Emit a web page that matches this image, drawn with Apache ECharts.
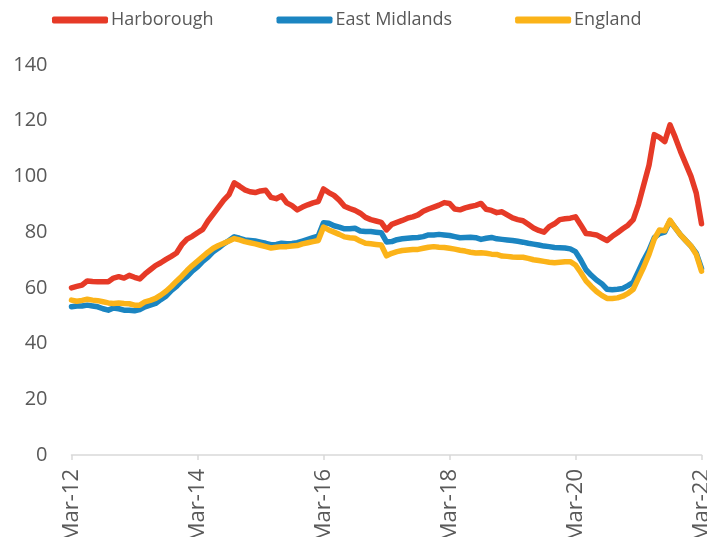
<!DOCTYPE html>
<html>
<head>
<meta charset="utf-8">
<script src="https://cdn.jsdelivr.net/npm/echarts@6/dist/echarts.min.js"></script>
<style>
  html, body { margin: 0; padding: 0; background: #fff; }
  #chart { width: 707px; height: 537px; }
</style>
</head>
<body>
<div id="chart"></div>
<script>
// month labels Mar-12 .. Mar-22
const monthNames = ["Jan", "Feb", "Mar", "Apr", "May", "Jun", "Jul", "Aug", "Sep", "Oct", "Nov", "Dec"];
const categories = [];
for (let i = 0; i <= 120; i++) {
  const m = (2 + i) % 12;
  const y = 12 + Math.floor((2 + i) / 12);
  categories.push(monthNames[m] + "-" + y);
}

const seriesNames = ["Harborough", "East Midlands", "England"];

const harborough = [
  60, 60.5, 61, 62.5, 62.3, 62.2, 62.2, 62.2, 63.5, 64, 63.5, 64.5,
  63.8, 63.2, 65, 66.5, 68, 69, 70.2, 71.3, 72.5, 75.5, 77.5, 78.5,
  79.8, 81, 84, 86.5, 89, 91.5, 93.5, 97.7, 96.5, 95.2, 94.5, 94.2,
  94.8, 95, 92.5, 92, 93, 90.5, 89.5, 88, 89, 89.8, 90.5, 91,
  95.5, 94.2, 93.2, 91.5, 89.3, 88.5, 87.8, 86.8, 85.3, 84.5, 84, 83.5,
  80.8, 82.8, 83.5, 84.2, 85, 85.5, 86.2, 87.5, 88.3, 89, 89.7, 90.6,
  90.3, 88.3, 88, 88.7, 89.2, 89.6, 90.3, 88.2, 87.8, 87, 87.3, 86.2,
  85.1, 84.5, 84.1, 82.8, 81.5, 80.6, 80, 82, 83, 84.5, 84.8, 85,
  85.5, 82.6, 79.5, 79.3, 79, 78, 77, 78.5, 79.8, 81.2, 82.5, 84.5,
  90, 97, 104, 115, 114, 112.5, 118.5, 114, 109, 104.5, 100, 94,
  83
];

const eastMidlands = [
  53.2, 53.5, 53.5, 53.8, 53.5, 53.2, 52.5, 52, 52.8, 52.5, 52, 52,
  51.8, 52.2, 53.2, 53.8, 54.4, 55.8, 57, 59, 60.5, 62.5, 64, 66,
  67.5, 69.5, 71, 73, 74.3, 75.8, 77, 78.3, 77.8, 77.2, 77, 76.8,
  76.4, 76, 75.5, 75.6, 76, 75.8, 75.9, 76.2, 76.8, 77.4, 78, 78.6,
  83.4, 83.2, 82.3, 81.8, 81.2, 81.2, 81.4, 80.4, 80.2, 80.2, 80, 79.8,
  76.5, 76.6, 77.3, 77.6, 77.8, 78, 78.1, 78.4, 79, 79, 79.2, 79,
  78.8, 78.4, 78, 78.1, 78.2, 78, 77.4, 77.8, 78.1, 77.6, 77.4, 77.2,
  77, 76.7, 76.4, 76, 75.7, 75.4, 75, 74.8, 74.5, 74.4, 74.3, 74,
  73, 70, 66.5, 64.5, 62.8, 61.5, 59.5, 59.3, 59.5, 59.8, 60.8, 62,
  66, 70, 73.5, 78, 79.5, 80, 84, 81.5, 79, 77, 75, 72.5,
  67
];

const england = [
  55.6, 55.2, 55.5, 55.9, 55.6, 55.4, 55, 54.6, 54.4, 54.6, 54.4, 54.3,
  53.8, 53.8, 55, 55.5, 56.2, 57.4, 58.8, 60.5, 62.4, 64.2, 66.2, 68,
  69.6, 71.2, 72.8, 74.2, 75.2, 76, 76.8, 77.7, 77.2, 76.6, 76.2, 75.8,
  75.3, 74.8, 74.3, 74.6, 74.8, 74.8, 75, 75.2, 75.8, 76.2, 76.6, 77,
  81.8, 80.8, 80, 79.2, 78.3, 78, 77.8, 76.8, 76, 75.8, 75.6, 75.4,
  71.5, 72.4, 73, 73.4, 73.6, 73.8, 73.8, 74.2, 74.6, 74.8, 74.6, 74.5,
  74.2, 73.9, 73.5, 73.2, 72.8, 72.5, 72.6, 72.4, 72.1, 72, 71.4, 71.3,
  71.1, 71, 71, 70.6, 70.1, 69.8, 69.5, 69.2, 69, 69.2, 69.4, 69.4,
  68.2, 65.5, 62.5, 60.5, 58.7, 57.3, 56.2, 56.2, 56.4, 57, 58, 59.5,
  63.5, 67.5, 72, 77.5, 80.8, 80.5, 84.3, 81.5, 79, 77, 75, 72,
  66
];

const colors = ["#E63A27", "#1B85C1", "#FBB319"];
const textColor = "#595959";
const font = "Open Sans";

const chart = echarts.init(document.getElementById("chart"));
chart.setOption({
  animation: false,
  color: colors,
  textStyle: { fontFamily: font },
  legend: {
    data: seriesNames,
    left: 47,
    top: 6,
    icon: "roundRect",
    itemWidth: 56,
    itemHeight: 7,
    itemGap: 63,
    textStyle: { color: textColor, fontSize: 18, fontFamily: font, padding: [0, 0, 0, -2] }
  },
  grid: { left: 71.5, right: 5.5, top: 65, bottom: 82, containLabel: false, outerBoundsMode: "none" },
  xAxis: {
    type: "category",
    data: categories,
    boundaryGap: false,
    axisLine: { lineStyle: { color: "#d9d9d9", width: 1.5 } },
    axisTick: { show: true, interval: 23, length: 5, lineStyle: { color: "#d9d9d9", width: 1.5 } },
    axisLabel: { interval: 23, rotate: 90, color: textColor, fontSize: 22, fontFamily: font, margin: 14 },
    splitLine: { show: false }
  },
  yAxis: {
    type: "value",
    min: 0,
    max: 140,
    interval: 20,
    axisLine: { show: false },
    axisTick: { show: false },
    splitLine: { show: false },
    axisLabel: { color: textColor, fontSize: 20, fontFamily: font, margin: 24 }
  },
  series: [
    { name: seriesNames[0], type: "line", data: harborough },
    { name: seriesNames[1], type: "line", data: eastMidlands },
    { name: seriesNames[2], type: "line", data: england }
  ].map(s => Object.assign(s, {
    symbol: "none",
    lineStyle: { width: 5.5, cap: "round", join: "round" }
  }))
});
</script>
</body>
</html>
